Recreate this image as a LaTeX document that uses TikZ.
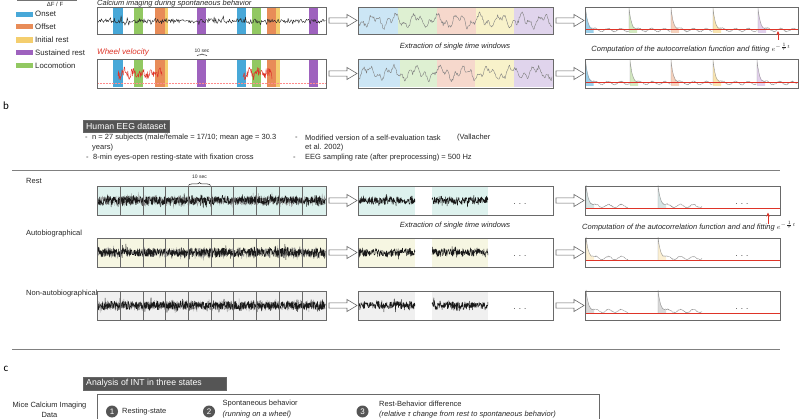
\documentclass[tikz,border=0pt]{standalone}
\usepackage{fontspec}
\setmainfont{Liberation Sans}
\newfontfamily\labfont{Carlito}
\usetikzlibrary{decorations.pathreplacing,arrows.meta,calc}

\definecolor{conset}{RGB}{72,168,216}
\definecolor{coffset}{RGB}{232,140,88}
\definecolor{cinit}{RGB}{244,206,110}
\definecolor{csust}{RGB}{158,98,190}
\definecolor{cloco}{RGB}{146,200,98}
\definecolor{lonset}{RGB}{204,230,245}
\definecolor{lloco}{RGB}{222,240,210}
\definecolor{loffset}{RGB}{246,216,204}
\definecolor{linit}{RGB}{248,242,202}
\definecolor{lsust}{RGB}{224,212,236}
\definecolor{frame}{RGB}{105,105,105}
\definecolor{txt}{RGB}{40,40,40}
\definecolor{crest}{RGB}{222,242,238}
\definecolor{cauto}{RGB}{246,246,226}
\definecolor{cnon}{RGB}{240,240,240}
\definecolor{darkbox}{RGB}{85,85,85}
\definecolor{fitred}{RGB}{222,52,40}

\tikzset{
  panel/.style={draw=frame, line width=0.8pt, inner sep=0pt, outer sep=0pt, minimum height=29pt, anchor=north west},
  lab/.style={font=\fontsize{7.5}{9}\selectfont, text=txt, inner sep=0pt, anchor=west},
  ilab/.style={lab, font=\fontsize{7.5}{9}\selectfont\itshape},
  legtxt/.style={lab, font=\fontsize{7.8}{9}\selectfont},
  legrect/.style={minimum width=17pt, minimum height=5.3pt, inner sep=0pt, anchor=west},
  hdrbox/.style={fill=darkbox, draw=black!60, line width=0.4pt, inner sep=0pt, anchor=north west},
  hdrtxt/.style={text=white, font=\fontsize{8.7}{10}\selectfont, inner sep=0pt, anchor=west},
  numc/.style={circle, fill=darkbox, text=white, minimum size=12pt, inner sep=0pt, font=\fontsize{8}{9}\selectfont},
  sepline/.style={draw=black!50, line width=0.9pt},
  tinytxt/.style={font=\fontsize{5}{6}\selectfont, text=txt, inner sep=0pt},
  bracedeco/.style={decorate, decoration={brace, amplitude=#1}, line width=0.5pt, draw=txt},
  dotsty/.style={font=\fontsize{8}{9}\selectfont, text=txt, inner sep=0pt},
  fitline/.style={draw=fitred, line width=0.9pt},
  acftrace/.style={draw=black!40, line width=0.4pt},
  eegline/.style={draw=black!90, line width=0.45pt, line join=round},
  hollowarrow/.pic={\draw[frame, line width=0.6pt, fill=white, line join=miter]
     (0,-2.6) -- (18,-2.6) -- (18,-6) -- (28,0) -- (18,6) -- (18,2.6) -- (0,2.6) -- cycle;},
}

% autocorrelation peak: #1 x of peak, #2 top y, #3 base y, #4 fill colour, #5 length
\newcommand\acfpk[5]{%
  \fill[#4] plot[domain=#1:#1+8, samples=25] (\x,{#3-(#3-#2)*exp(-(\x-#1)/2.5)}) -- (#1+8,#3+3) -- (#1,#3+3) -- cycle;
  \draw[acftrace] (#1,#3+2) -- (#1,#2) -- plot[domain=#1:#1+#5, samples=90]
     (\x,{#3-(#3-#2)*exp(-(\x-#1)/2.5)+1.6*sin((\x-#1)*28)*(1-exp(-(\x-#1)/5))+0.5*rand});
}

% one EEG row: #1 top y, #2 fill colour, #3 name, #4 decay fill colour
\newcommand\eegrow[4]{%
  \fill[#2] (97,#1) rectangle (326,#1+29);
  \draw[black!40, line width=0.35pt, line join=round] plot[domain=97.5:325.5, samples=700]
     (\x,{#1+14.5+4.5*rand+6*rand*rand*rand});
  \draw[eegline] plot[domain=97.5:325.5, samples=900]
     (\x,{#1+14.5+4.2*rand+5.5*rand*rand*rand});
  \foreach \sx in {120,143,165,188,211,233,256,279,302} \draw[frame, line width=0.8pt] (\sx,#1) -- (\sx,#1+29);
  \node[panel, minimum width=229pt] (#3a) at (97,#1) {};
  \fill[#2] (358,#1) rectangle (415,#1+29);
  \fill[#2] (432,#1) rectangle (488,#1+29);
  \draw[eegline] plot[domain=359:415, samples=190]
     (\x,{#1+14.5+3.8*rand+5*rand*rand*rand});
  \draw[eegline] plot[domain=432:488, samples=190]
     (\x,{#1+14.5+3.8*rand+5*rand*rand*rand});
  \node[dotsty, anchor=base] (#3d) at (520,#1+19) {.\hspace{3pt}.\hspace{3pt}.};
  \node[panel, minimum width=195pt] (#3b) at (358,#1) {};
  \acfpk{586}{#1+1}{#1+20}{#4}{42}
  \acfpk{658}{#1+1}{#1+20}{#4}{44}
  \draw[fitline] (585.5,#1+22) -- (779.5,#1+22);
  \node[dotsty, anchor=base] (#3e) at (742,#1+19) {.\hspace{3pt}.\hspace{3pt}.};
  \node[panel, minimum width=195pt] (#3c) at (585,#1) {};
  \pic at ($(#3a.east)+(3,0)$) {hollowarrow};
  \pic at ($(#3b.east)+(3,0)$) {hollowarrow};
}

\begin{document}
\begin{tikzpicture}[x=1pt,y=-1pt]
\useasboundingbox (0,0) rectangle (800,419);
\clip (0,0) rectangle (800,419);
\fill[white] (0,0) rectangle (800,419);
\pgfmathsetseed{7}

% ---------------- panel a ----------------
\draw[black!55, line width=0.6pt] (17,0.5) -- (77,0.5);
\node[lab, anchor=base, font=\fontsize{6}{7}\selectfont] (dff) at (55,6.2) {ΔF / F};
\node[ilab, anchor=base west] (catitle) at (97,5.8) {Calcium imaging during spontaneous behavior};

\node[legrect, fill=conset] (lr1) at (16,14.2) {};
\node[legrect, fill=coffset] (lr2) at (16,26.7) {};
\node[legrect, fill=cinit] (lr3) at (16,40) {};
\node[legrect, fill=csust] (lr4) at (16,52.6) {};
\node[legrect, fill=cloco] (lr5) at (16,65.8) {};
\node[legtxt] (lt1) at (35,14.2) {Onset};
\node[legtxt] (lt2) at (35,26.7) {Offset};
\node[legtxt] (lt3) at (35,40) {Initial rest};
\node[legtxt] (lt4) at (35,52.6) {Sustained rest};
\node[legtxt] (lt5) at (35,65.8) {Locomotion};

% behaviour bands
\foreach \xa/\xb/\cc in {113/123/conset, 134/143/cloco, 155/165/coffset, 165/168/cinit, 197/206/csust,
                         237/246/conset, 252/261/cloco, 267/276/coffset, 276/280/cinit, 309/318/csust} {
  \fill[\cc] (\xa,7) rectangle (\xb,34);
  \fill[\cc] (\xa,59) rectangle (\xb,87);
}
\draw[black!85, line width=0.4pt, line join=round] plot[domain=97.5:325.5, samples=300]
   (\x,{21+2.2*rand+5*rand*rand*rand});
\node[panel, minimum width=229pt, minimum height=27pt] (ca1) at (97,7) {};

\node[ilab, text=fitred, font=\fontsize{8}{9}\selectfont\itshape] (wv) at (97,52.5) {Wheel velocity};
\node[tinytxt] (ten1) at (202,50.3) {10 sec};
\draw[bracedeco=1.8pt] (197,55.8) -- (207,55.8);
\draw[red!45, densely dotted, line width=0.5pt] (98,83) -- (325,83);
\draw[fitred, line width=0.45pt, line join=round] plot[domain=118:162, samples=100]
   (\x,{73.5+4.5*rand+2.5*sin((\x-118)*40)});
\draw[fitred, line width=0.45pt, line join=round] plot[domain=243:272, samples=70]
   (\x,{73.5+4.5*rand+2.5*sin((\x-243)*40)});
\node[panel, minimum width=229pt] (ca2) at (97,59) {};

% extracted windows
\foreach \xa/\xb/\cc in {358/398/lonset, 398/437/lloco, 437/476/loffset, 476/514/linit, 514/553/lsust}
  \fill[\cc] (\xa,7) rectangle (\xb,34);
\foreach \xa/\xb/\cc in {358/400/lonset, 400/437/lloco, 437/475/loffset, 475/514/linit, 514/553/lsust}
  \fill[\cc] (\xa,59) rectangle (\xb,87);
\draw[black!50, line width=0.4pt, line join=round] plot[domain=359:552, samples=260]
   (\x,{21+4.5*sin((\x-358)*17)+3*sin((\x-358)*43+70)+2*rand});
\draw[black!50, line width=0.4pt, line join=round] plot[domain=359:552, samples=260]
   (\x,{73+4.5*sin((\x-358)*15+120)+3*sin((\x-358)*47+20)+2*rand});
\node[panel, minimum width=195pt, minimum height=27pt] (cw1) at (358,7) {};
\node[panel, minimum width=195pt] (cw2) at (358,59) {};
\node[ilab, anchor=center] (ext1) at (455,46.5) {Extraction of single time windows};

% autocorrelation
\acfpk{585.5}{8}{30}{conset!55}{43}
\acfpk{629}{8}{30}{cloco!40}{41}
\acfpk{671}{8}{30}{coffset!40}{41}
\acfpk{713}{8}{30}{cinit!55}{44}
\acfpk{758}{8}{30}{csust!30}{39}
\draw[fitline] (585.5,29) -- (797.5,29);
\node[panel, minimum width=213pt, minimum height=27pt] (cf1) at (585,7) {};
\acfpk{585.5}{60}{83}{conset!55}{44}
\acfpk{630}{60}{83}{cloco!40}{40}
\acfpk{671}{60}{83}{coffset!40}{41}
\acfpk{713}{60}{83}{cinit!55}{43}
\acfpk{757}{60}{83}{csust!30}{40}
\draw[fitline] (585.5,82) -- (797.5,82);
\node[panel, minimum width=213pt] (cf2) at (585,59) {};

\coordinate (ra1s) at (778,40);
\coordinate (ra1e) at (778,31);
\draw[fitred, line width=0.8pt, -{Stealth[length=4pt,width=3.5pt]}] (ra1s) -- (ra1e);
\node[ilab, anchor=center] (comp1) at (691,48) {Computation of the autocorrelation function and fitting $e^{-\frac{1}{\tau}t}$};

\pic at ($(ca1.east)+(3,0)$) {hollowarrow};
\pic at ($(ca2.east)+(3,0)$) {hollowarrow};
\pic at ($(cw1.east)+(3,0)$) {hollowarrow};
\pic at ($(cw2.east)+(3,0)$) {hollowarrow};

% ---------------- panel b ----------------
\node[font=\labfont\fontsize{11}{12}\selectfont, inner sep=0pt] (pb) at (6,106) {b};
\node[hdrbox, minimum width=86pt, minimum height=12pt] (hb) at (83,120) {};
\node[hdrtxt] (hbt) at ($(hb.west)+(3,0)$) {Human EEG dataset};

\node[lab] (d1) at (85,138) {-};
\node[lab] (b1) at (92,138) {n = 27 subjects (male/female = 17/10; mean age = 30.3};
\node[lab] (b1b) at (92,148) {years)};
\node[lab] (d2) at (86,158) {-};
\node[lab] (b2) at (93,158) {8-min eyes-open resting-state with fixation cross};
\node[lab] (d3) at (295,138) {-};
\node[lab] (b3) at (305,138) {Modified version of a self-evaluation task};
\node[lab] (b3v) at (457,138) {(Vallacher};
\node[lab] (b3b) at (305,148) {et al. 2002)};
\node[lab] (d4) at (293,158) {-};
\node[lab] (b4) at (305,158) {EEG sampling rate (after preprocessing) = 500 Hz};

\draw[sepline] (12,170) -- (780,170);

\node[lab] (lrest) at (26,181) {Rest};
\node[tinytxt] (ten2) at (199.5,176.5) {10 sec};
\draw[bracedeco=3pt] (188.5,185.5) -- (210.5,185.5);
\eegrow{186}{crest}{r}{crest!70!cyan!60!black!25}
\coordinate (ra2s) at (768,224);
\coordinate (ra2e) at (768,212.5);
\draw[fitred, line width=0.8pt, -{Stealth[length=4pt,width=3.5pt]}] (ra2s) -- (ra2e);

\node[lab] (lauto) at (26,233.5) {Autobiographical};
\node[ilab, anchor=center] (ext2) at (455,226) {Extraction of single time windows};
\node[ilab] (comp2) at (582,226) {Computation of the autocorrelation function and and fitting $e^{-\frac{1}{\tau}t}$};
\eegrow{238}{cauto}{u}{cinit!30}

\node[lab] (lnon) at (26,293.5) {Non-autobiographical};
\eegrow{291}{cnon}{n}{black!15}

\draw[sepline] (12,349) -- (780,349);

% ---------------- panel c ----------------
\node[font=\labfont\fontsize{11}{12}\selectfont, inner sep=0pt] (pc) at (6,369) {c};
\node[hdrbox, minimum width=143pt, minimum height=13pt] (hc) at (83,377) {};
\node[hdrtxt] (hct) at ($(hc.west)+(3,0)$) {Analysis of INT in three states};

\draw[frame, line width=0.8pt] (97,425) -- (97,394) -- (599,394) -- (599,425);
\node[lab, anchor=center] (mc1) at (49.5,406) {Mice Calcium Imaging};
\node[lab, anchor=center] (mc2) at (49.5,415) {Data};

\node[numc] (n1) at (112,411.5) {1};
\node[lab] (s1) at (122,411.5) {Resting-state};
\node[numc] (n2) at (209,411.5) {2};
\node[lab] (s2) at (222.5,404) {Spontaneous behavior};
\node[ilab] (s2b) at (222.5,415) {(running on a wheel)};
\node[numc] (n3) at (362.5,411.5) {3};
\node[lab] (s3) at (379,404) {Rest-Behavior difference};
\node[ilab] (s3b) at (379,415) {(relative τ change from rest to spontaneous behavior)};
\end{tikzpicture}
\end{document}
